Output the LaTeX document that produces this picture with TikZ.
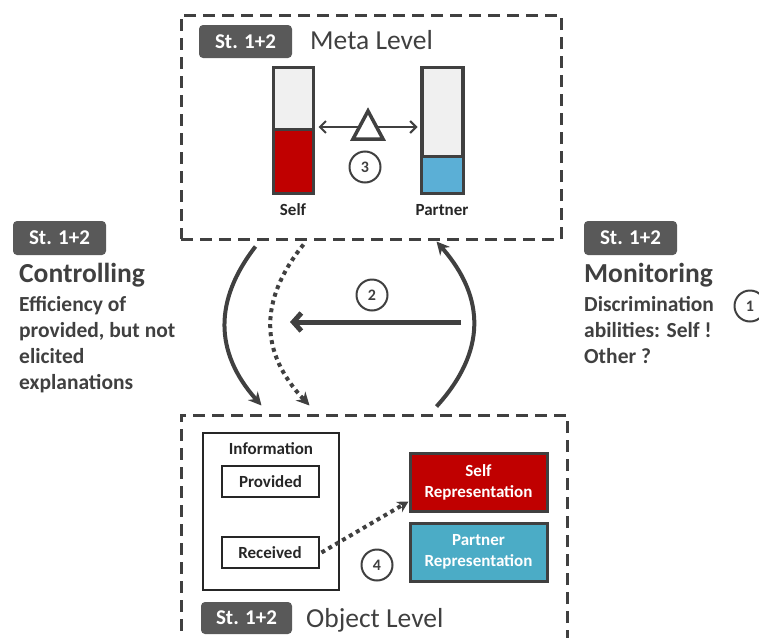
\documentclass[tikz,border=0pt]{standalone}
\usepackage{fontspec}
\setmainfont{Carlito}
\usetikzlibrary{arrows.meta,calc}

\definecolor{ink}{HTML}{404040}
\definecolor{badgegray}{HTML}{595959}
\definecolor{selfred}{HTML}{C00000}
\definecolor{barblue}{HTML}{5BAFD6}
\definecolor{partnerblue}{HTML}{4BACC6}
\definecolor{barempty}{HTML}{F0F0F0}
\definecolor{boxink}{HTML}{262626}

\tikzset{
  levelbox/.style={draw=ink, line width=3pt, dash pattern=on 12pt off 7pt, inner sep=0pt},
  badge/.style={fill=badgegray, rounded corners=4pt, text=white, font=\fontsize{21}{24}\selectfont\bfseries,
    inner sep=0pt},
  leveltitle/.style={text=ink, font=\fontsize{27.5}{30}\selectfont, anchor=base west, inner sep=0pt},
  headline/.style={text=ink, font=\fontsize{27.5}{30}\selectfont\bfseries, anchor=base west, inner sep=0pt},
  descline/.style={text=ink, font=\fontsize{21.5}{24}\selectfont\bfseries, anchor=base west, inner sep=0pt},
  bar/.style={draw=ink, line width=3pt, fill=barempty, inner sep=0pt, minimum width=40pt, minimum height=126pt},
  barlabel/.style={text=boxink, font=\fontsize{17}{19}\selectfont\bfseries, inner sep=0pt},
  numcircle/.style={circle, draw=ink, line width=2pt, minimum size=31pt, inner sep=0pt, text=ink,
    font=\fontsize{16}{18}\selectfont\bfseries},
  infobox/.style={draw=boxink, line width=2pt, inner sep=0pt},
  itembox/.style={draw=boxink, line width=2pt, inner sep=0pt, minimum width=97pt, minimum height=31pt,
    text=boxink, font=\fontsize{17}{19}\selectfont\bfseries},
  repbox/.style={draw=ink, line width=3pt, inner sep=0pt, minimum width=137pt, minimum height=58pt,
    text=white, align=center, font=\fontsize{17}{21}\selectfont\bfseries},
  arcline/.style={draw=ink, line width=4pt, -{Stealth[length=13pt,width=13pt]}},
  dotline/.style={draw=ink, line width=4pt, dash pattern=on 4pt off 4pt,
    -{Stealth[length=13pt,width=13pt]}},
  thinarrow/.style={draw=ink, line width=2pt, {Straight Barb[length=6pt,width=12pt]}-{Straight Barb[length=6pt,width=12pt]}},
  thickarrow/.style={draw=ink, line width=5pt, -{Straight Barb[length=8pt,width=18pt]}},
}

\begin{document}
\begin{tikzpicture}[x=1pt, y=-1pt]
\useasboundingbox (0,0) rectangle (759,637);
\clip (0,0) rectangle (759,637);

% ---- Meta level ----
\node[levelbox, minimum width=380pt, minimum height=224pt] (meta) at (371,127) {};
\node[badge, minimum width=93pt, minimum height=33pt] (metabadge) at (245.5,41.5) {St. 1+2};
\node[leveltitle] (metatitle) at (310,49) {Meta Level};

\node[bar] (selfbar) at (293,130) {};
\fill[selfred] (273,129) rectangle (313,193);
\draw[ink, line width=3pt] (273,129) -- (313,129);
\draw[ink, line width=3pt] (273,67) rectangle (313,193);

\node[bar] (partnerbar) at (442,130) {};
\fill[barblue] (421,156) rectangle (463,193);
\draw[ink, line width=3pt] (421,156) -- (463,156);
\draw[ink, line width=3pt] (421,67) rectangle (463,193);

\node[barlabel] (selflabel) at (293,210) {Self};
\node[barlabel] (partnerlabel) at (442,210) {Partner};

\draw[thinarrow] ([xshift=4pt,yshift=3pt]selfbar.east) -- ([xshift=-3pt,yshift=3pt]partnerbar.west);
\draw[ink, line width=3.5pt, fill=white, line join=miter] (368,111) -- (383,139) -- (353,139) -- cycle;
\node[numcircle] (n3) at (365,167) {3};

% ---- Controlling ----
\node[badge, minimum width=93pt, minimum height=34pt] (ctrlbadge) at (59.5,238) {St. 1+2};
\node[headline] (ctrltitle) at (19,282) {Controlling};
\node[descline] (ctrl1) at (19,311) {Efficiency of};
\node[descline] (ctrl2) at (19,337) {provided, but not};
\node[descline] (ctrl3) at (19,363) {elicited};
\node[descline] (ctrl4) at (19,389) {explanations};

% ---- Monitoring ----
\node[badge, minimum width=93pt, minimum height=34pt] (monbadge) at (630.5,238) {St. 1+2};
\node[headline] (montitle) at (584,282) {Monitoring};
\node[descline] (mon1) at (584,311) {Discrimination};
\node[descline] (mon2) at (584,337) {abilities: Self !};
\node[descline] (mon3) at (584,363) {Other ?};
\node[numcircle] (n1) at (750,306) {1};

% ---- Object level ----
\node[levelbox, minimum width=386pt, minimum height=240pt] (object) at (374,535) {};
\node[badge, minimum width=91pt, minimum height=32pt] (objbadge) at (246.5,618) {St. 1+2};
\node[leveltitle] (objtitle) at (306,627) {Object Level};

\node[infobox, minimum width=136pt, minimum height=157pt] (info) at (271,511.5) {};
\node[barlabel] (infotitle) at (271,449) {Information};
\node[itembox] (provided) at (270.5,481.5) {Provided};
\node[itembox] (received) at (270,552.5) {Received};

\node[repbox, fill=selfred] (selfrep) at (478.5,482) {Self\\Representation};
\node[repbox, fill=partnerblue] (partnerrep) at (478.5,552) {Partner\\Representation};

\draw[dotline, -{Stealth[length=11pt,width=12pt]}] ([xshift=2pt]received.east) -- ([yshift=11pt]selfrep.south west);
\node[numcircle] (n4) at (377,565) {4};

% ---- Connectors between the levels ----
\draw[arcline] ([xshift=76pt,yshift=-6pt]meta.south west)
  .. controls (214,300) and (214,352) .. ([xshift=82pt,yshift=8pt]object.north west);
\draw[dotline] ([xshift=124pt,yshift=-4pt]meta.south west)
  .. controls (259,300) and (259,352) .. ([xshift=130pt,yshift=8pt]object.north west);
\draw[arcline] ([xshift=257pt,yshift=7pt]object.north west)
  .. controls (486,352) and (486,298) .. ([xshift=257pt,yshift=-1pt]meta.south west);

\coordinate (flowstart) at (461,322);
\coordinate (flowend) at (290,322);
\draw[thickarrow] (flowstart) -- (flowend);
\node[numcircle] (n2) at (372,295) {2};
\end{tikzpicture}
\end{document}
